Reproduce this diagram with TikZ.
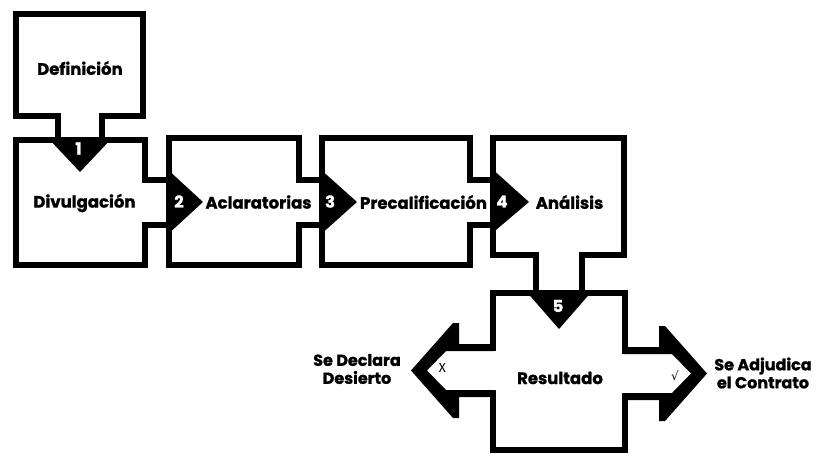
\documentclass[tikz,border=0pt]{standalone}
\usepackage{fontspec}
\setmainfont{Poppins}[UprightFont=* Bold, BoldFont=* Bold, BoldFeatures={FakeBold=1.2}]
\newfontfamily\symfont{DejaVu Sans}
\newfontfamily\thinfont{Fira Sans}
\begin{document}
\begin{tikzpicture}[x=1pt,y=-1pt,
  box/.style={draw, line width=6.5pt, fill=white, inner sep=0pt, outer sep=0pt, rectangle},
  frame/.style={line width=6.5pt},
  lbl/.style={inner sep=0pt, font=\bfseries\fontsize{16.5}{18}\selectfont},
  num/.style={inner sep=0pt, text=white, font=\bfseries\fontsize{16.5}{18}\selectfont},
  side/.style={inner sep=0pt, align=center, font=\bfseries\fontsize{16}{18}\selectfont}]
\useasboundingbox (0,0) rectangle (819,456);
\fill[white] (0,0) rectangle (819,456);
% boxes
\node[box, minimum width=127pt, minimum height=102pt] (b1) at (79.5,65) {};
\node[box, minimum width=129pt, minimum height=125pt] (b2) at (80.5,202.5) {};
\node[box, minimum width=130pt, minimum height=127pt] (b3) at (234,201.5) {};
\node[box, minimum width=148pt, minimum height=127pt] (b4) at (396,201.5) {};
\node[box, minimum width=131pt, minimum height=117pt] (b5) at (558.5,196.5) {};
\node[box, minimum width=132pt, minimum height=157pt] (b6) at (559,371.5) {};
% vertical necks
\fill[white] (61.25,112.75) rectangle (98.75,143.25);
\draw[frame] (58,116) -- (58,140) (102,116) -- (102,140);
\fill[white] (539.25,251.75) rectangle (578.75,296.25);
\draw[frame] (536,255) -- (536,293) (582,255) -- (582,293);
% horizontal necks
\foreach \xa/\xb in {145/169, 299/322, 470/493}{
  \fill[white] (\xa-3.25,183.25) rectangle (\xb+3.25,221.75);
  \draw[frame] (\xa,180) -- (\xb,180) (\xa,225) -- (\xb,225);
}
% triangles
\fill (47,137) -- (113,137) -- (80,172) -- cycle;
\fill (166,168) -- (166,236) -- (203,202) -- cycle;
\fill (319,168) -- (319,236) -- (357,202) -- cycle;
\fill (490,167) -- (490,235) -- (529,202) -- cycle;
\fill (525,290) -- (593,290) -- (559,329) -- cycle;
% left arrow
\fill[white] (500,351) -- (446,351) -- (427,370.5) -- (446,390) -- (500,390) -- cycle;
\fill (494,344) -- (459,344) -- (459,323) -- (453,323) -- (411,370.5) -- (453,418) -- (459,418) -- (459,397) -- (494,397)
  -- (494,390) -- (446,390) -- (427,370.5) -- (446,351) -- (494,351) -- cycle;
% right arrow
\fill[white] (618,354) -- (672,354) -- (691,373.5) -- (672,393) -- (618,393) -- cycle;
\fill (624,347) -- (659,347) -- (659,326) -- (665,326) -- (707,373.5) -- (665,421) -- (659,421) -- (659,400) -- (624,400)
  -- (624,393) -- (672,393) -- (691,373.5) -- (672,354) -- (624,354) -- cycle;
% labels
\node[lbl] (tdef) at (80,68) {Definición};
\node[lbl] (tdiv) at (84.5,203) {Divulgación};
\node[lbl] (tacl) at (258.5,202) {Aclaratorias};
\node[lbl] (tpre) at (423.5,202) {Precalificación};
\node[lbl] (tana) at (569.5,202) {Análisis};
\node[lbl] (tres) at (560,378) {Resultado};
\node[num] (n1) at (78.5,148.5) {1};
\node[num] (n2) at (179,201.5) {2};
\node[num] (n3) at (330,201.5) {3};
\node[num] (n4) at (502,201.5) {4};
\node[num] (n5) at (558,306) {5};
\node[side] (tdes) at (357,369) {Se Declara\\Desierto};
\node[side] (tadj) at (763,373) {Se Adjudica\\el Contrato};
\node[inner sep=0pt, font=\thinfont\fontsize{13}{15}\selectfont] (tx) at (442.5,368) {X};
\node[inner sep=0pt, font=\symfont\fontsize{12}{14}\selectfont] (tv) at (675,376) {√};
\end{tikzpicture}
\end{document}
